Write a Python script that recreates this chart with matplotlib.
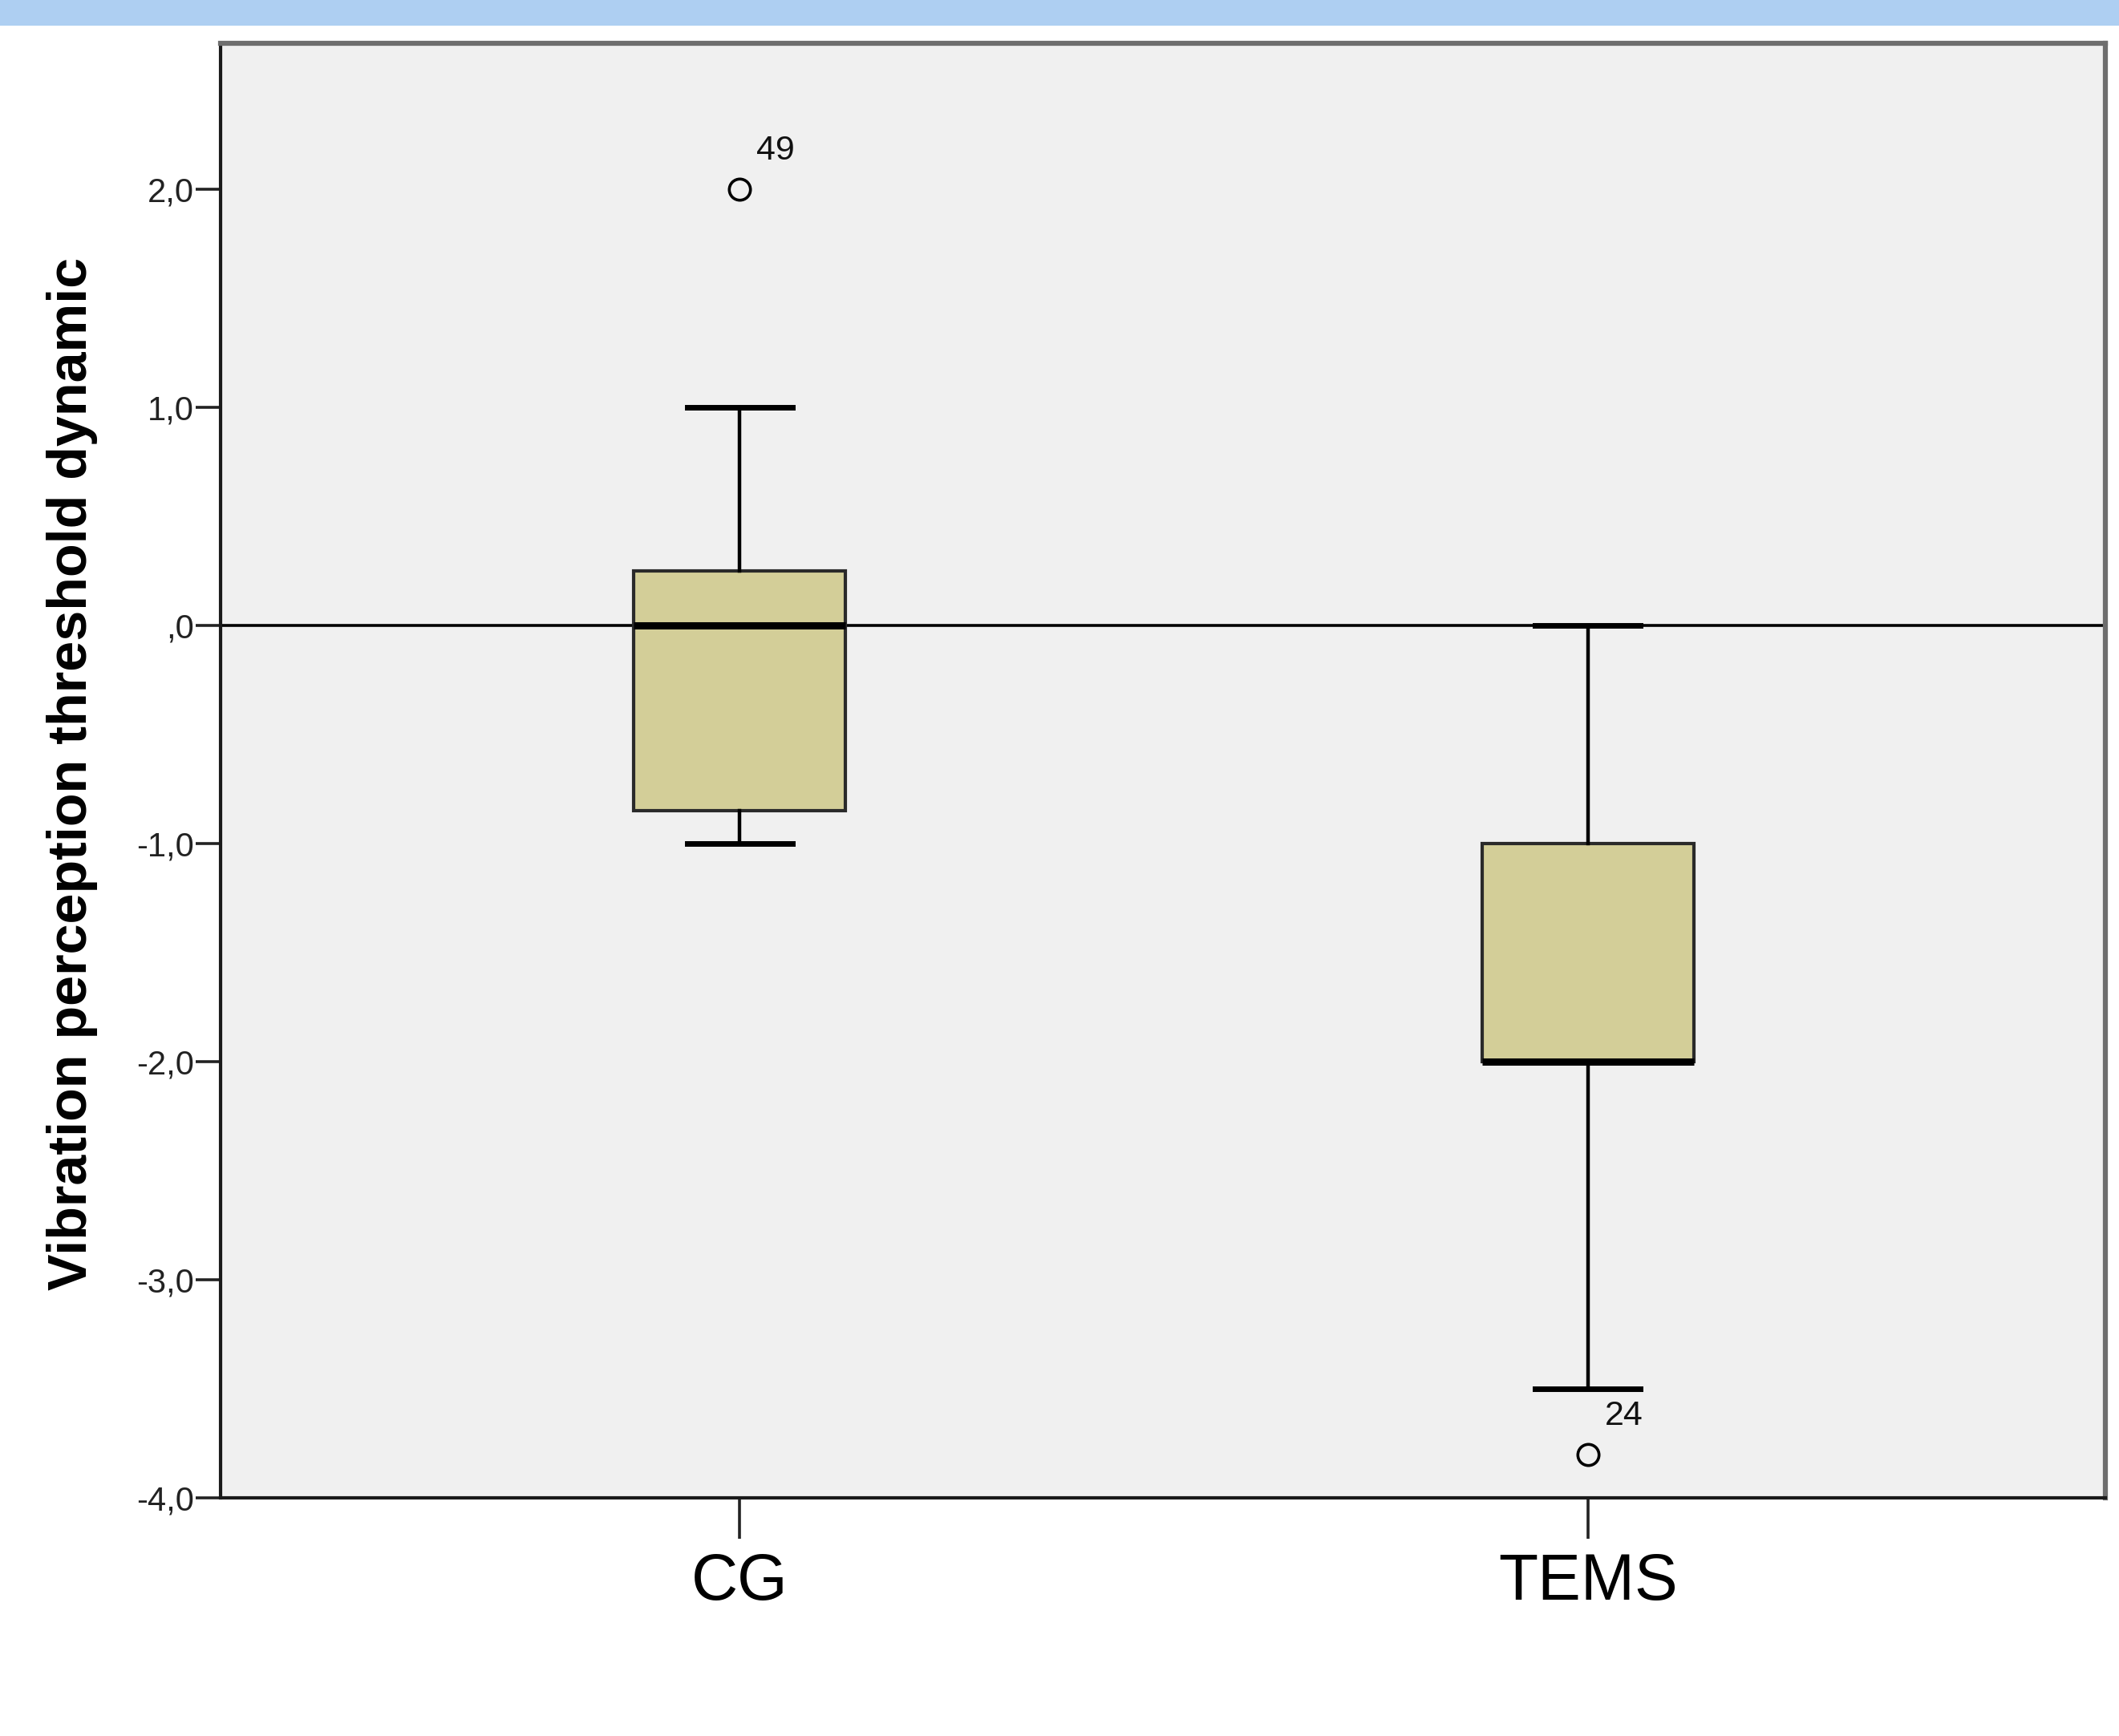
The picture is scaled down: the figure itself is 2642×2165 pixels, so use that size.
import matplotlib
matplotlib.use("Agg")
import matplotlib.pyplot as plt
from matplotlib.patches import Rectangle

# ---- data ----
groups = ["CG", "TEMS"]
medians = [0.0, -2.0]
q1 = [-0.85, -2.0]
q3 = [0.25, -1.0]
whisker_low = [-1.0, -3.5]
whisker_high = [1.0, 0.0]
outliers = [[2.0], [-3.8]]
outlier_ids = [["49"], ["24"]]
yticks = [-4.0, -3.0, -2.0, -1.0, 0.0, 1.0, 2.0]
ytick_labels = ["-4,0", "-3,0", "-2,0", "-1,0", ",0", "1,0", "2,0"]
ylabel = "Vibration perception threshold dynamic"

W, H = 2642, 2165
DPI = 100
plt.rcParams['font.family'] = ['Liberation Sans', 'DejaVu Sans']

fig = plt.figure(figsize=(W / DPI, H / DPI), dpi=DPI, facecolor="white")
# top blue band
fig.patches.append(Rectangle((0, 1 - 32 / H), 1, 32 / H, transform=fig.transFigure,
                             facecolor="#aecff2", edgecolor="none", zorder=0))

L, R, T, B = 275, 2625, 54, 1868
ax = fig.add_axes([L / W, 1 - B / H, (R - L) / W, (B - T) / H])
ax.set_facecolor("#f0f0f0")

positions = [1, 2]
stats = []
for i, g in enumerate(groups):
    stats.append(dict(label=g, med=medians[i], q1=q1[i], q3=q3[i],
                      whislo=whisker_low[i], whishi=whisker_high[i],
                      fliers=outliers[i]))

# reference line at zero
ax.axhline(0, color="black", lw=2.6, zorder=1)

ax.bxp(stats, positions=positions, widths=0.25, patch_artist=True,
       boxprops=dict(facecolor="#d3ce98", edgecolor="#2a2a2a", linewidth=3.0),
       medianprops=dict(color="black", linewidth=6.5, solid_capstyle="butt"),
       whiskerprops=dict(color="black", linewidth=3.2),
       capprops=dict(color="black", linewidth=5),
       capwidths=0.124,
       flierprops=dict(marker="o", markersize=19, markerfacecolor="none",
                       markeredgecolor="black", markeredgewidth=2.6),
       zorder=2)

for i, pos in enumerate(positions):
    for v, lab in zip(outliers[i], outlier_ids[i]):
        ax.annotate(lab, xy=(pos, v), xytext=(15, 20), textcoords="offset points",
                    ha="left", va="bottom", fontsize=31, color="#111111")

ax.set_xlim(0.388, 2.61)
ax.set_ylim(-4.0, 2.67)
ax.set_yticks(yticks)
ax.set_yticklabels(ytick_labels, fontsize=30, color="#222222")
ax.set_xticks(positions)
ax.set_xticklabels(groups, fontsize=58, color="black")
ax.tick_params(axis="y", length=22, width=2.6, color="#222222", pad=2)
ax.tick_params(axis="x", length=37, width=2.6, color="#222222", pad=12)

for s in ["left", "bottom"]:
    ax.spines[s].set_color("#1a1a1a")
    ax.spines[s].set_linewidth(3)
for s in ["top", "right"]:
    ax.spines[s].set_color("#6e6e6e")
    ax.spines[s].set_linewidth(4.5)

# y label, sized to match reference length
yl = fig.text(90 / W, 1 - 965 / H, ylabel, rotation=90, ha="center", va="center",
              fontsize=44, fontweight="bold", color="black")
fig.canvas.draw()
ext = yl.get_window_extent(fig.canvas.get_renderer())
target = 1289.0
yl.set_fontsize(44 * target / ext.height)

fig.savefig("out.png", dpi=DPI, facecolor="white")
